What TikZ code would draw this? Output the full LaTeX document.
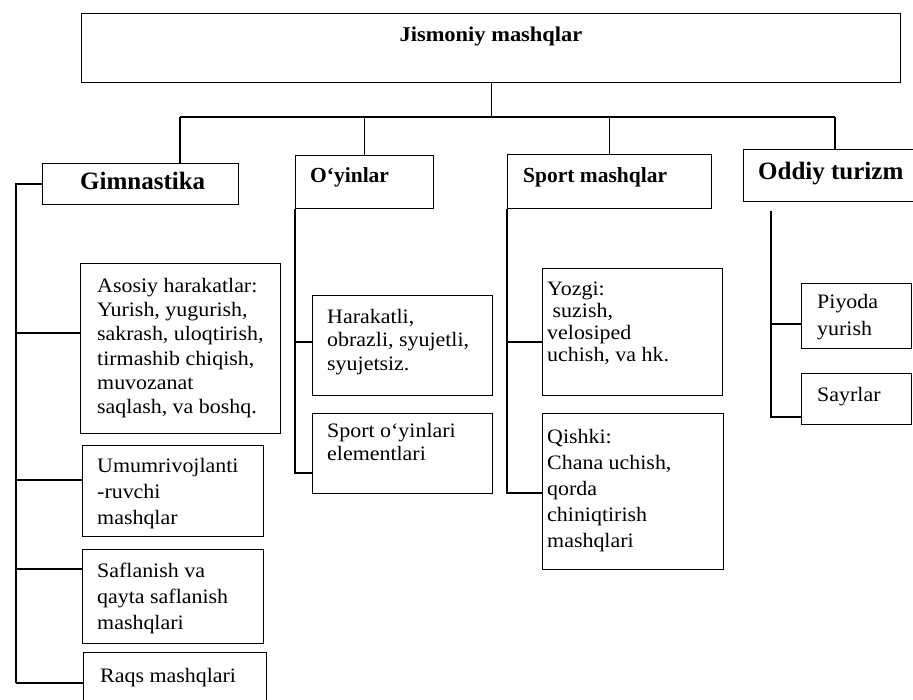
\documentclass[tikz,border=0pt]{standalone}
\usepackage{fontspec}
\setmainfont{Liberation Serif}
\newfontfamily\widefont{Liberation Serif}[FakeStretch=1.07]
\usetikzlibrary{calc}
\newcommand\myst{\rule{0pt}{14.5pt}}
\tikzset{
  box/.style={draw, line width=1.2pt, inner sep=0pt, anchor=north west},
  txt/.style={inner sep=0pt, anchor=north west, align=left},
  one/.style={inner sep=0pt, anchor=base west, font=\widefont\fontsize{20.5}{24}\selectfont},
  head/.style={inner sep=0pt, anchor=base west, font=\bfseries\fontsize{21.5}{25}\selectfont},
  bighead/.style={inner sep=0pt, anchor=base west, font=\bfseries\fontsize{25}{29}\selectfont},
  conn/.style={draw, line width=1.2pt}
}
\begin{document}
\begin{tikzpicture}[x=1pt, y=-1pt]
\useasboundingbox (0,0) rectangle (913,700);
\clip (0,0) rectangle (913,700);
\fill[white] (0,0) rectangle (913,700);

% top box
\node[box, minimum width=819pt, minimum height=69pt] (top) at (81,13) {};
\node[inner sep=0pt, anchor=base, font=\widefont\bfseries\fontsize{21}{25}\selectfont] (topt) at (491,42) {Jismoniy mashqlar};

% level 1
\node[box, minimum width=196pt, minimum height=41pt] (gim) at (42,163) {};
\node[bighead] (gimt) at (80,190) {Gimnastika};
\node[box, minimum width=138pt, minimum height=53pt] (oyin) at (295,155) {};
\node[head] (oyint) at (310,183) {O‘yinlar};
\node[box, minimum width=204pt, minimum height=54pt] (sport) at (507,154) {};
\node[head] (sportt) at (523,183) {Sport mashqlar};
\node[box, minimum width=190pt, minimum height=52pt] (odd) at (743,149) {};
\node[bighead] (oddt) at (758,180) {Oddiy turizm};

% Gimnastika children
\node[box, minimum width=200pt, minimum height=170pt] (aso) at (80,263) {};
\node[txt, font=\widefont\fontsize{20.5}{24.3}\selectfont] (asot) at (97,277.5) {\myst Asosiy harakatlar:\\Yurish, yugurish,\\sakrash, uloqtirish,\\tirmashib chiqish,\\muvozanat\\saqlash, va boshq.};
\node[box, minimum width=181pt, minimum height=91pt] (umu) at (82,445) {};
\node[txt, font=\widefont\fontsize{20.5}{26}\selectfont] (umut) at (97,457.5) {\myst Umumrivojlanti\\-ruvchi\\mashqlar};
\node[box, minimum width=181pt, minimum height=94pt] (saf) at (82,549) {};
\node[txt, font=\widefont\fontsize{20.5}{26}\selectfont] (saft) at (97,562.5) {\myst Saflanish va\\qayta saflanish\\mashqlari};
\node[box, minimum width=183pt, minimum height=80pt] (raq) at (83,652) {};
\node[one] (raqt) at (100,682) {Raqs mashqlari};

% O'yinlar children
\node[box, minimum width=180pt, minimum height=100pt] (har) at (312,295) {};
\node[txt, font=\widefont\fontsize{20.5}{23.5}\selectfont] (hart) at (327,308.5) {\myst Harakatli,\\obrazli, syujetli,\\syujetsiz.};
\node[box, minimum width=180pt, minimum height=80pt] (spo) at (312,413) {};
\node[txt, font=\widefont\fontsize{20.5}{23}\selectfont] (spot) at (327,422.5) {\myst Sport o‘yinlari\\elementlari};

% Sport mashqlar children
\node[box, minimum width=180pt, minimum height=127pt] (yoz) at (542,268) {};
\node[txt, font=\widefont\fontsize{20.5}{22}\selectfont] (yozt) at (547,280.5) {\myst Yozgi:\\\ suzish,\\velosiped\\uchish, va hk.};
\node[box, minimum width=181pt, minimum height=156pt] (qis) at (542,413) {};
\node[txt, font=\widefont\fontsize{20.5}{26}\selectfont] (qist) at (547,428.5) {\myst Qishki:\\Chana uchish,\\qorda\\chiniqtirish\\mashqlari};

% Oddiy turizm children
\node[box, minimum width=110pt, minimum height=65pt] (piy) at (801,283) {};
\node[txt, font=\widefont\fontsize{20.5}{27}\selectfont] (piyt) at (817,293.5) {\myst Piyoda\\yurish};
\node[box, minimum width=110pt, minimum height=51pt] (say) at (801,373) {};
\node[one] (sayt) at (817,402) {Sayrlar};

% top bus
\coordinate (busL) at (180,117);
\coordinate (busR) at (835,117);
\draw[conn] (top.south) -- (top.south |- busL);
\draw[conn] (busL) -- (busR);
\draw[conn] (busL) -- (busL |- gim.north);
\draw[conn] (oyin.north) -- (oyin.north |- busL);
\draw[conn] (sport.north) -- (sport.north |- busL);
\draw[conn] (busR) -- (busR |- odd.north);

% Gimnastika trunk
\coordinate (gbot) at (16,683);
\draw[conn] (gim.west) -| (gbot);
\coordinate (ab) at ($(aso.north west)+(0,70)$);
\coordinate (ub) at ($(umu.north west)+(0,35)$);
\coordinate (sb) at ($(saf.north west)+(0,20)$);
\coordinate (rb) at ($(raq.north west)+(0,31)$);
\draw[conn] (ab -| gbot) -- (ab);
\draw[conn] (ub -| gbot) -- (ub);
\draw[conn] (sb -| gbot) -- (sb);
\draw[conn] (gbot) -- (rb);

% O'yinlar trunk
\coordinate (hb) at ($(har.north west)+(0,47)$);
\coordinate (pb) at ($(spo.north west)+(0,60)$);
\draw[conn] (oyin.south west) |- (pb);
\draw[conn] (hb -| oyin.south west) -- (hb);

% Sport trunk
\coordinate (yb) at ($(yoz.north west)+(0,74)$);
\coordinate (qb) at ($(qis.north west)+(0,80)$);
\draw[conn] (sport.south west) |- (qb);
\draw[conn] (yb -| sport.south west) -- (yb);

% Oddiy turizm trunk
\coordinate (ot) at ($(odd.south west)+(28,9)$);
\coordinate (pyb) at ($(piy.north west)+(0,41)$);
\coordinate (syb) at ($(say.north west)+(0,44)$);
\draw[conn] (ot) |- (syb);
\draw[conn] (pyb -| ot) -- (pyb);
\end{tikzpicture}
\end{document}
